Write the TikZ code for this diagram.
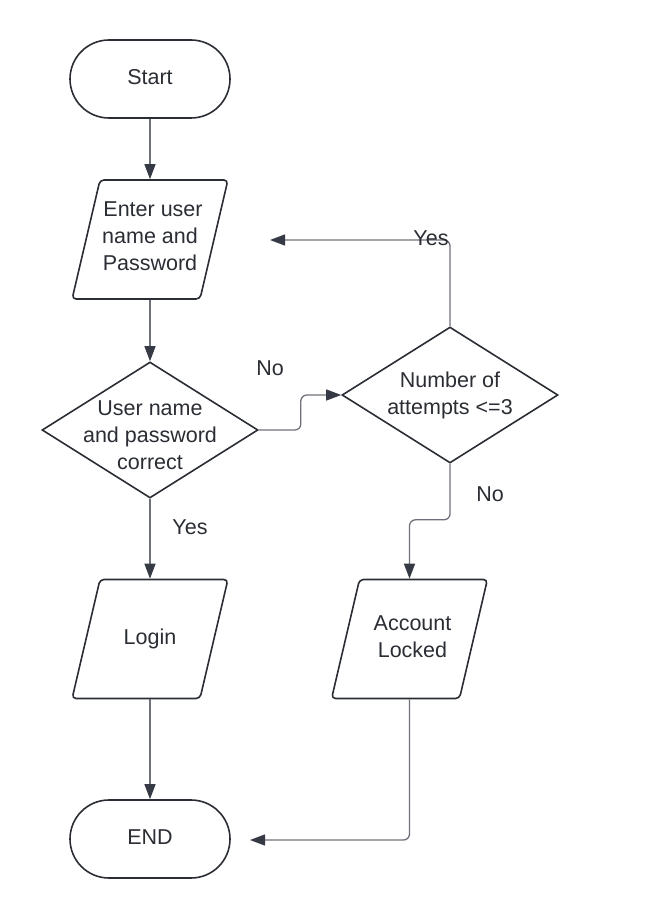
\documentclass[tikz,border=0pt]{standalone}
\usepackage{fontspec}
\setmainfont{Liberation Sans}
\usetikzlibrary{shapes.geometric,shapes.misc,arrows.meta}
\definecolor{ink}{HTML}{2A2D33}
\definecolor{wire}{HTML}{6E7179}
\definecolor{tipdark}{HTML}{353A45}
\tikzstyle{terminal} = [rounded rectangle, draw=ink, line width=1.6pt, minimum width=160pt, minimum height=78pt, inner sep=0pt, text=ink, font=\fontsize{21.5}{27}\selectfont]
\tikzstyle{io} = [trapezium, trapezium left angle=76.8, trapezium right angle=103.2, draw=ink, line width=1.6pt, rounded corners=4pt, inner xsep=50pt, inner ysep=59.5pt]
\tikzstyle{decision} = [diamond, draw=ink, line width=1.6pt, minimum width=216pt, minimum height=136pt, inner sep=0pt]
\tikzstyle{txt} = [text=ink, font=\fontsize{21.5}{27}\selectfont, align=center, inner sep=0pt]
\tikzstyle{flow} = [draw=wire, line width=1.3pt, rounded corners=6pt, -{Triangle[length=15pt,width=11pt,color=tipdark]}]

\begin{document}
\begin{tikzpicture}[x=1pt,y=-1pt]
  \useasboundingbox (0,0) rectangle (650,920);

  \node[terminal, label={[txt, yshift=2pt]center:Start}] (start) at (150,79) {};
  \node[io, label={[txt, yshift=3pt]center:{\hspace{6pt}Enter user\\name and\\Password}}] (enter) at (150,239.5) {};
  \node[decision, label={[txt, yshift=-5pt]center:{User name\\and password\\correct}}] (check) at (150,430) {};
  \node[decision, label={[txt]center:{Number of\\attempts <=3}}] (attempts) at (450,395) {};
  \node[io, label={[txt]center:Login}] (login) at (150,639) {};
  \node[io, label={[txt, xshift=3pt, yshift=2pt]center:{Account\\Locked}}] (locked) at (409.5,639) {};
  \node[terminal, label={[txt, yshift=2pt]center:END}] (done) at (150,839) {};

  \coordinate (back) at (270,240);
  \coordinate (into) at (250,840);

  \path[flow] (start) -- (enter);
  \path[flow] (enter) -- (check);
  \path[flow] (check) -- (login);
  \path[flow] (login) -- (done);
  \path[flow] (check.east) -- ++(42,0) |- (attempts.west);
  \path[flow] (attempts.north) |- (back);
  \path[flow] (attempts.south) -- ++(0,56) -| (locked.north);
  \path[flow] (locked.south) |- (into);

  \node[txt] (yes1) at (190,527) {Yes};
  \node[txt] (no1) at (270,368) {No};
  \node[txt] (yes2) at (431,238) {Yes};
  \node[txt] (no2) at (490,494) {No};
\end{tikzpicture}
\end{document}
